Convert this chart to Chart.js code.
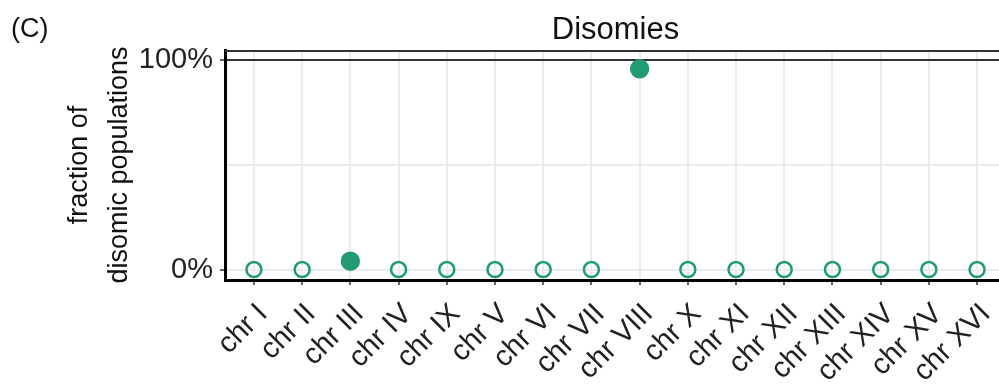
<!DOCTYPE html>
<html>
<head>
<meta charset="utf-8">
<script src="https://cdn.jsdelivr.net/npm/chart.js@4/dist/chart.umd.min.js"></script>
<style>
  html, body { margin: 0; padding: 0; background: #fff; overflow: hidden; }
  #wrap { width: 1017px; height: 385px; }
</style>
</head>
<body>
<div id="wrap"><canvas id="chart" width="1017" height="385"></canvas></div>
<script>
const categories = ['chr I', 'chr II', 'chr III', 'chr IV', 'chr IX', 'chr V', 'chr VI', 'chr VII',
    'chr VIII', 'chr X', 'chr XI', 'chr XII', 'chr XIII', 'chr XIV', 'chr XV', 'chr XVI'];
const fractions = [0, 0, 0.04, 0, 0, 0, 0, 0, 0.96, 0, 0, 0, 0, 0, 0, 0];
const significant = [false, false, true, false, false, false, false, false, true, false, false, false, false, false, false, false];
const yTicks = [0, 0.5, 1];
const yTickLabels = ['0%', '', '100%'];

const green = '#229b72';
const font = 'Liberation Sans, Arial, sans-serif';

const points = fractions.map((v, i) => ({ x: i, y: v }));

const overlay = {
    id: 'overlay',
    afterDraw(chart) {
        const ctx = chart.ctx;
        const a = chart.chartArea;
        ctx.save();
        // top frame line
        ctx.strokeStyle = '#333';
        ctx.lineWidth = 2;
        ctx.beginPath();
        ctx.moveTo(a.left, a.top + 1);
        ctx.lineTo(a.right, a.top + 1);
        ctx.stroke();
        ctx.fillStyle = '#111';
        ctx.textBaseline = 'alphabetic';
        ctx.font = '31px ' + font;
        ctx.textAlign = 'center';
        ctx.fillText('Disomies', (a.left + a.right) / 2, 39);
        ctx.font = '27px ' + font;
        ctx.textAlign = 'left';
        ctx.fillText('(C)', 11, 37);
        ctx.restore();
    }
};

new Chart(document.getElementById('chart'), {
    type: 'scatter',
    data: {
        datasets: [{
            data: points,
            pointRadius: significant.map(s => s ? 8.5 : 7.5),
            pointHoverRadius: significant.map(s => s ? 8.5 : 7.5),
            pointBorderWidth: 2.5,
            pointBorderColor: green,
            pointBackgroundColor: significant.map(s => s ? green : 'rgba(0,0,0,0)')
        }]
    },
    options: {
        responsive: false,
        animation: false,
        layout: { padding: { top: 50, right: 0, left: 59, bottom: 0 } },
        plugins: { legend: { display: false }, tooltip: { enabled: false } },
        scales: {
            x: {
                type: 'linear',
                min: -0.6,
                max: 15.6,
                afterBuildTicks(scale) { scale.ticks = categories.map((c, i) => ({ value: i })); },
                afterFit(scale) { scale.height = 105; },
                ticks: {
                    callback: v => categories[v],
                    autoSkip: false,
                    minRotation: 45,
                    maxRotation: 45,
                    color: '#222',
                    padding: 12,
                    labelOffset: 9,
                    font: { family: font, size: 29 }
                },
                grid: { color: '#ebebeb', lineWidth: 2, tickLength: 5, tickColor: '#333', tickWidth: 1.5 },
                border: { color: '#000', width: 3 }
            },
            y: {
                min: -0.05,
                max: 1.05,
                afterBuildTicks(scale) { scale.ticks = yTicks.map(v => ({ value: v })); },
                afterFit(scale) { scale.width = 166; },
                ticks: {
                    callback: (v, i) => yTickLabels[i],
                    color: '#222',
                    padding: 7,
                    font: { family: font, size: 29 }
                },
                title: {
                    display: true,
                    text: ['fraction of', 'disomic populations'],
                    color: '#111',
                    font: { family: font, size: 27, lineHeight: 1.5 },
                    padding: { top: 0, bottom: 0 }
                },
                grid: {
                    color: c => c.tick && c.tick.value === 1 ? '#333' : '#ebebeb',
                    lineWidth: 2,
                    tickLength: 5,
                    tickColor: c => c.tick && c.tick.value === 0.5 ? 'rgba(0,0,0,0)' : '#333',
                    tickWidth: 1.5
                },
                border: { color: '#000', width: 3 }
            }
        }
    },
    plugins: [overlay]
});
</script>
</body>
</html>
